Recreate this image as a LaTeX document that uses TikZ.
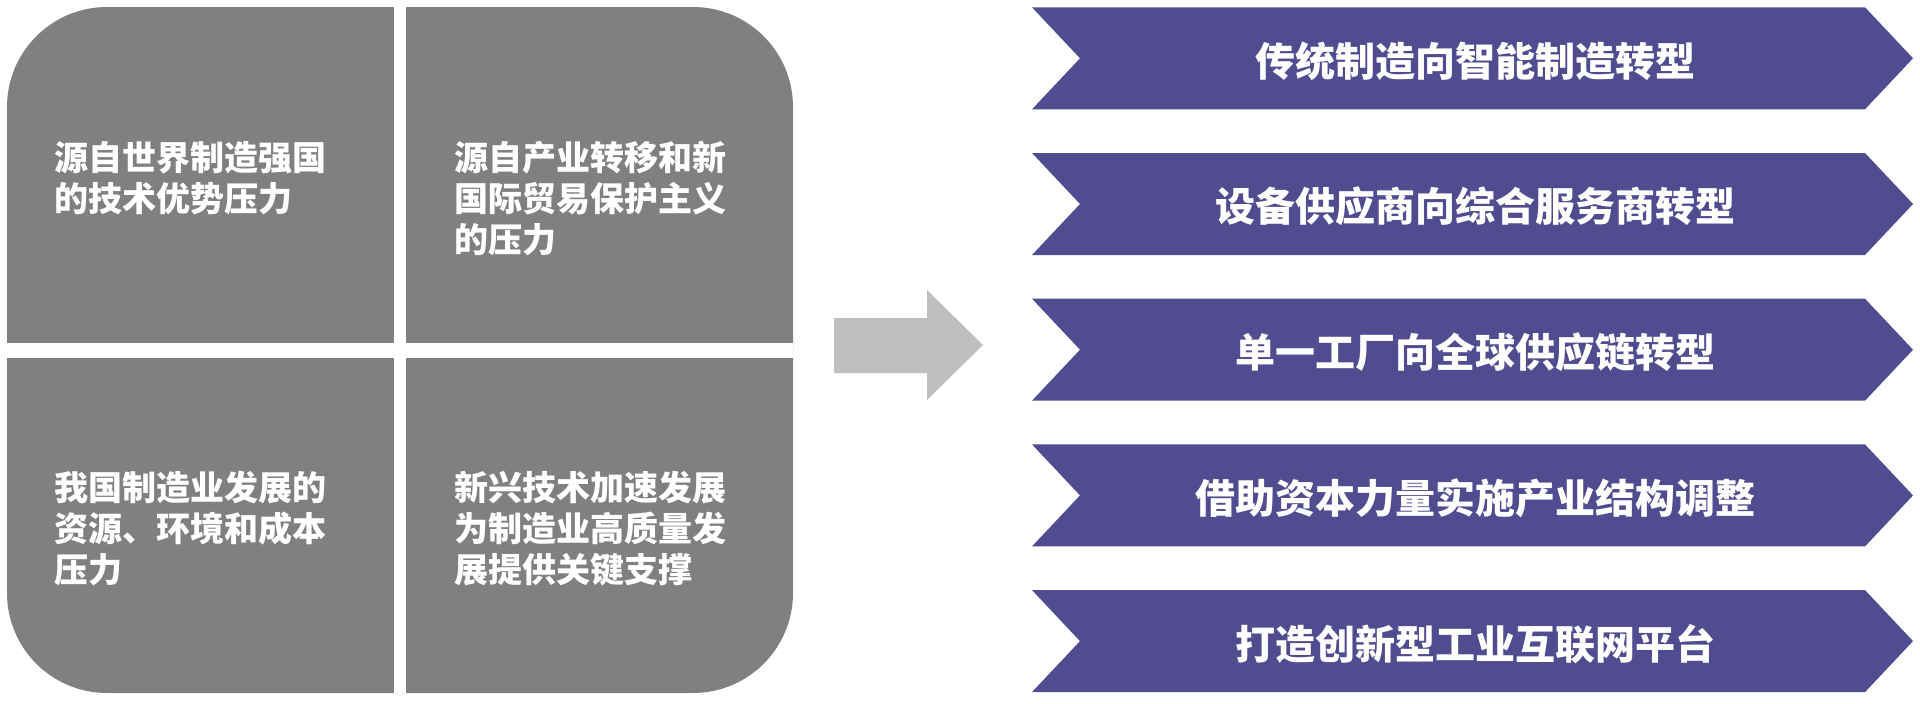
\documentclass[tikz,border=0pt]{standalone}
\usepackage{fontspec}
\newfontfamily\cjk{Noto Sans CJK SC}
\definecolor{blockgray}{RGB}{128,128,128}
\definecolor{chev}{RGB}{80,76,143}
\definecolor{arrowgray}{RGB}{191,191,191}
\begin{document}
\begin{tikzpicture}[x=1pt,y=-1pt,
  quadtext/.style={anchor=north west, inner sep=0pt, align=left, text=white,
    font=\cjk\bfseries\fontsize{34}{41}\selectfont},
  chevtext/.style={anchor=center, inner sep=0pt, text=white,
    font=\cjk\bfseries\fontsize{40}{48}\selectfont},
  chevshape/.style={fill=chev},
  gapfill/.style={fill=white},
  bigarrow/.style={fill=arrowgray}]
\useasboundingbox[fill=white] (0,0) rectangle (1920,704);

% left block with rounded outer corners
\fill[blockgray, rounded corners=100pt] (7,7) rectangle (793,693);
\fill[gapfill] (394,7) rectangle (406,693);
\fill[gapfill] (7,343) rectangle (793,358);

\node[quadtext] (q1) at (54,141) {源自世界制造强国\\的技术优势压力};
\node[quadtext] (q2) at (454,141) {源自产业转移和新\\国际贸易保护主义\\的压力};
\node[quadtext] (q3) at (54,471) {我国制造业发展的\\资源、环境和成本\\压力};
\node[quadtext] (q4) at (454,471) {新兴技术加速发展\\为制造业高质量发\\展提供关键支撑};

% grey block arrow
\fill[bigarrow] (834,318) -- (927,318) -- (927,290) -- (983,345) -- (927,400) -- (927,373) -- (834,373) -- cycle;

% chevrons
\foreach \i in {0,...,4}{
  \pgfmathsetmacro{\t}{7.3+\i*145.7}
  \pgfmathsetmacro{\m}{\t+51}
  \pgfmathsetmacro{\b}{\t+102}
  \fill[chevshape] (1032,\t) -- (1865,\t) -- (1913,\m) -- (1865,\b) -- (1032,\b) -- (1080,\m) -- cycle;
}
\node[chevtext] (c1) at (1475,61) {传统制造向智能制造转型};
\node[chevtext] (c2) at (1475,206.7) {设备供应商向综合服务商转型};
\node[chevtext] (c3) at (1475,352.4) {单一工厂向全球供应链转型};
\node[chevtext] (c4) at (1475,498.1) {借助资本力量实施产业结构调整};
\node[chevtext] (c5) at (1475,643.8) {打造创新型工业互联网平台};
\end{tikzpicture}
\end{document}
